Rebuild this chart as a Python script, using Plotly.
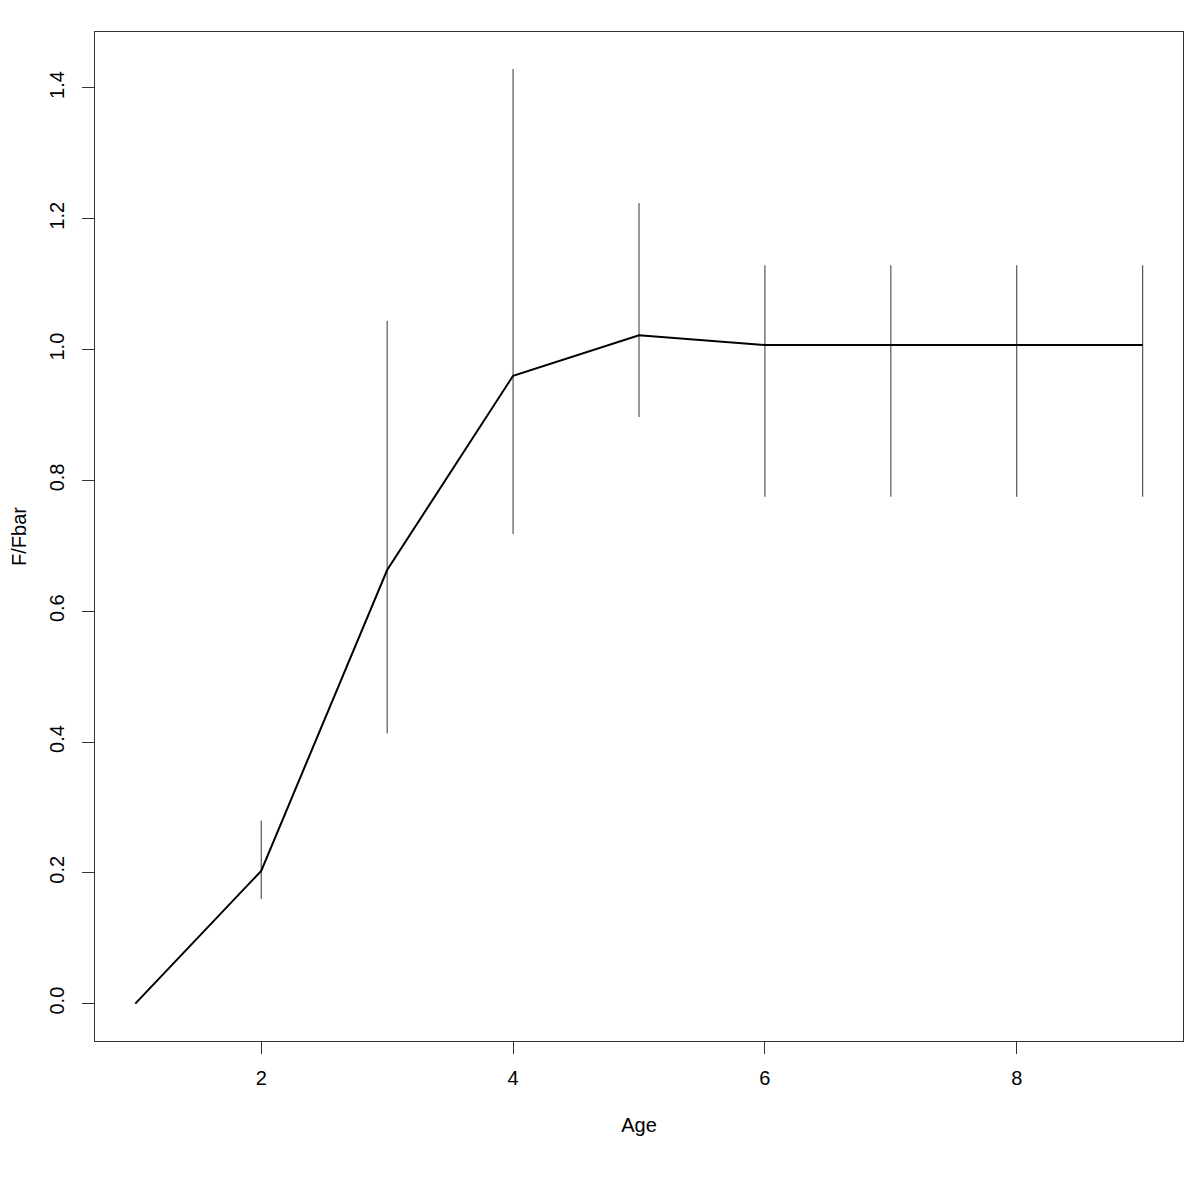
import plotly.graph_objects as go

age = [1, 2, 3, 4, 5, 6, 7, 8, 9]
f_fbar = [0.0, 0.203, 0.663, 0.960, 1.022, 1.007, 1.007, 1.007, 1.007]
upper = [None, 0.280, 1.044, 1.429, 1.224, 1.129, 1.129, 1.129, 1.129]
lower = [None, 0.160, 0.413, 0.718, 0.897, 0.775, 0.775, 0.775, 0.775]
x_ticks = [2, 4, 6, 8]
y_ticks = [0.0, 0.2, 0.4, 0.6, 0.8, 1.0, 1.2, 1.4]

ex, ey = [], []
for a, u, l in zip(age, upper, lower):
    if u is None:
        continue
    ex += [a, a, None]
    ey += [l, u, None]

fig = go.Figure()
fig.add_trace(go.Scatter(x=ex, y=ey, mode="lines",
                         line=dict(color="#333333", width=1), showlegend=False))
fig.add_trace(go.Scatter(x=age, y=f_fbar, mode="lines",
                         line=dict(color="black", width=2), showlegend=False))

font = dict(family="Liberation Sans, Arial, sans-serif", size=20, color="black")
fig.update_layout(
    width=1192, height=1192,
    margin=dict(l=87, r=17, t=24, b=159),
    paper_bgcolor="white", plot_bgcolor="white",
    font=font,
    xaxis=dict(range=[0.68, 9.32], tickvals=x_ticks, ticktext=[str(v) for v in x_ticks],
               ticks="outside", ticklen=12, tickcolor="#333333", tickwidth=1,
               showline=True, mirror=True, linecolor="#333333", linewidth=1,
               showgrid=False, zeroline=False, ticklabelstandoff=7, automargin=False,
               title=dict(text="Age", standoff=29, font=font)),
    yaxis=dict(range=[-0.05714, 1.4856], tickvals=y_ticks,
               ticktext=[f"{v:.1f}" for v in y_ticks], tickangle=-90,
               ticks="outside", ticklen=12, tickcolor="#333333", tickwidth=1,
               showline=True, mirror=True, linecolor="#333333", linewidth=1,
               showgrid=False, zeroline=False, ticklabelstandoff=10, automargin=False,
               title=dict(text="F/Fbar", standoff=24, font=font)),
)
fig.write_html("out.html")
